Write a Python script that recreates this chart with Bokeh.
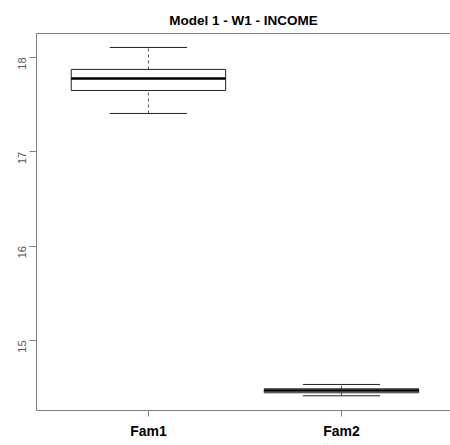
import math
from bokeh.plotting import figure
from bokeh.models import FixedTicker, ColumnDataSource, LinearAxis
from bokeh.embed import file_html
from bokeh.resources import INLINE

categories = ["Fam1", "Fam2"]
lower_whisker = [17.406, 14.413]
q1 = [17.650, 14.445]
median = [17.777, 14.469]
q3 = [17.873, 14.487]
upper_whisker = [18.106, 14.533]
y_ticks = [15, 16, 17, 18]

x = [i + 1 for i in range(len(categories))]
box_w = 0.8
cap_w = 0.4

src = ColumnDataSource(dict(
    x=x,
    left=[v - box_w / 2 for v in x],
    right=[v + box_w / 2 for v in x],
    cl=[v - cap_w / 2 for v in x],
    cr=[v + cap_w / 2 for v in x],
    lo=lower_whisker, q1=q1, med=median, q3=q3, hi=upper_whisker,
))

p = figure(width=450, height=445, output_backend="svg", toolbar_location=None,
           x_range=(0.42, 2.565), y_range=(14.257, 18.254),
           title="Model 1 - W1 - INCOME")
p.min_border_left = 36
p.min_border_right = 0
p.min_border_top = 33
p.min_border_bottom = 35
p.background_fill_color = "white"
p.border_fill_color = "white"
p.outline_line_color = None
p.xgrid.visible = False
p.ygrid.visible = False

p.title.align = "center"
p.title.text_font = "Liberation Sans"
p.title.text_font_style = "bold"
p.title.text_font_size = "13.5px"
p.title.text_color = "black"
p.title.offset = 0
p.title.standoff = 12

# whiskers
p.segment(x0="x", y0="q3", x1="x", y1="hi", source=src, line_color="#555555",
          line_dash="3 3", line_width=1)
p.segment(x0="x", y0="lo", x1="x", y1="q1", source=src, line_color="#555555",
          line_dash="3 3", line_width=1)
p.segment(x0="cl", y0="hi", x1="cr", y1="hi", source=src, line_color="#222222", line_width=1)
p.segment(x0="cl", y0="lo", x1="cr", y1="lo", source=src, line_color="#222222", line_width=1)
# boxes
p.quad(left="left", right="right", bottom="q1", top="q3", source=src,
       fill_color="white", line_color="#222222", line_width=1)
# medians
p.segment(x0="left", y0="med", x1="right", y1="med", source=src,
          line_color="black", line_width=2.5)

frame_col = "#7f7f7f"

xa = p.xaxis[0]
xa.ticker = FixedTicker(ticks=x)
xa.major_label_overrides = {v: c for v, c in zip(x, categories)}
xa.axis_line_color = frame_col
xa.major_tick_line_color = frame_col
xa.major_tick_out = 6
xa.major_tick_in = 0
xa.minor_tick_line_color = None
xa.major_label_text_font = "Liberation Sans"
xa.major_label_text_font_style = "bold"
xa.major_label_text_font_size = "14px"
xa.major_label_text_color = "black"
xa.major_label_standoff = 6

ya = p.yaxis[0]
ya.ticker = FixedTicker(ticks=y_ticks)
ya.axis_line_color = frame_col
ya.major_tick_line_color = frame_col
ya.major_tick_out = 7
ya.major_tick_in = 0
ya.minor_tick_line_color = None
ya.major_label_orientation = math.pi / 2
ya.major_label_text_font = "Liberation Sans"
ya.major_label_text_font_size = "11px"
ya.major_label_text_color = "#555555"
ya.major_label_standoff = 7

top_axis = LinearAxis(ticker=FixedTicker(ticks=[]), major_label_text_font_size="0px",
                      axis_line_color=frame_col, major_tick_line_color=None,
                      minor_tick_line_color=None)
p.add_layout(top_axis, "above")

open("out.html", "w").write(file_html(p, INLINE))
